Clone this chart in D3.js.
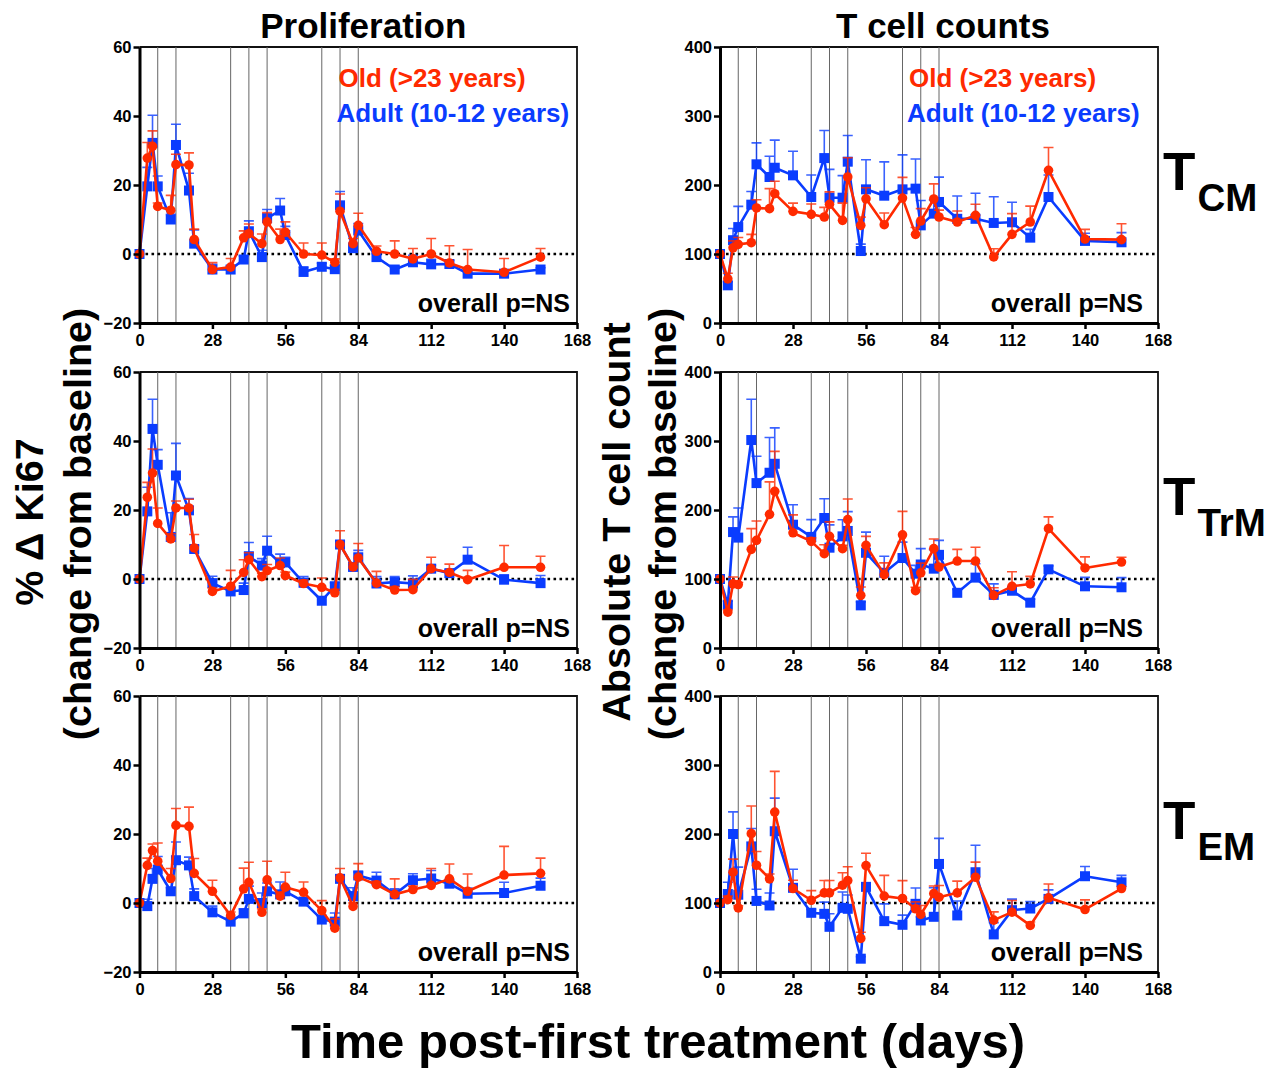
<!DOCTYPE html>
<html>
<head>
<meta charset="utf-8">
<script src="https://cdnjs.cloudflare.com/ajax/libs/d3/7.8.5/d3.min.js"></script>
<style>
  body { margin: 0; background: #fff; }
  svg text { font-family: "Liberation Sans", Arial, Helvetica, sans-serif; font-weight: bold; }
</style>
</head>
<body>
<div id="vis"></div>
<script>
// sampling days (same for every panel)
var days = [0, 3, 5, 7, 12, 14, 19, 21, 28, 35, 40, 42, 47, 49, 54, 56, 63, 70, 75, 77, 82, 84, 91, 98, 105, 112, 119, 126, 140, 154];
var treatDays = [7, 14, 35, 42, 49, 70, 77, 84];
var xTicks = [0, 28, 56, 84, 112, 140, 168];
var prolifTicks = [-20, 0, 20, 40, 60];
var countTicks = [0, 100, 200, 300, 400];

// Proliferation, TCM
var prolifCmAdult = [0, 19.6, 32.2, 19.6, 10, 31.6, 18.4, 3, -4.5, -4.5, -1.6, 6.6, -0.9, 10.4, 12.6, 5.5, -5.2, -3.7, -4.4, 14.1, 1.7, 6.8, -0.9, -4.5, -2.4, -3, -2.9, -5.7, -5.7, -4.5];
var prolifCmAdultErr = [0, 5.5, 8, 3, 1.5, 6, 5, 4, 1.5, 1, 1, 3, 2, 2.5, 3.5, 2.5, 1.5, 1, 1, 4, 1.5, 2, 1, 1, 2, 1.5, 1, 1, 1, 0.5];
var prolifCmOld = [0, 27.8, 31.2, 13.8, 12.7, 25.9, 25.8, 4.2, -4.5, -3.8, 4.7, 5.9, 3, 9.3, 4.2, 6.3, 0, -0.3, -2.4, 12.4, 3, 8.3, 0.8, 0, -1.4, 0, -2.6, -4.5, -5.3, -0.9];
var prolifCmOldErr = [0, 4.5, 4.5, 1, 4.3, 3, 3.5, 3, 2, 2.5, 2, 2.8, 2.8, 2.7, 3, 3, 3.2, 3.5, 1, 5, 1.5, 3.5, 1.5, 3.8, 3, 4.5, 5, 5.8, 4, 2.5];

// T cell counts, TCM
var countCmAdult = [100, 54.6, 120, 139, 171.5, 230, 211.6, 225, 214, 182.6, 239, 181.6, 181.6, 233.8, 104.3, 193.7, 184.5, 193.7, 194.7, 141.5, 158.5, 175.4, 151, 151, 145, 146, 123.7, 182.6, 119, 117];
var countCmAdultErr = [0, 5, 17, 30, 19, 31, 30, 40, 35, 32, 40, 41, 32, 38, 10, 43, 49, 50, 43, 36, 20, 36, 33, 37, 38, 29, 12, 32, 11, 14];
var countCmOld = [100, 64, 109, 114, 116.4, 166.7, 165.7, 187.4, 161.8, 157.5, 153.6, 172, 148.8, 211.6, 141.5, 180, 142.5, 181, 128.5, 147.8, 179.7, 153.6, 146.4, 156, 95.7, 128.5, 146.4, 221.3, 121.7, 120.8];
var countCmOldErr = [0, 8, 10, 10, 12, 12, 29, 18, 12, 15, 14, 18, 25, 28, 12, 16, 17, 30, 10, 18, 22, 10, 16, 16, 12, 30, 23, 33, 14, 23];

// Proliferation, TrM
var prolifTrmAdult = [0, 19.6, 43.5, 33.1, 12.2, 30, 19.9, 8.7, -1.2, -3.6, -3.2, 6.6, 3.9, 8.2, 4.6, 4.8, -1.1, -6.3, -2.1, 10, 3.5, 6.3, -1.3, -0.9, -1.3, 3, 1.7, 5.6, -0.2, -1.2];
var prolifTrmAdultErr = [0, 7, 8.6, 4.4, 7, 9.3, 3.4, 1, 2, 1, 2, 4, 2, 4.2, 2.6, 1.5, 1.8, 1, 1, 1, 1, 2, 2, 1.6, 2.2, 1, 1, 3.6, 1.4, 2.2];
var prolifTrmOld = [0, 23.7, 30.7, 16.1, 11.6, 20.6, 20.6, 9, -3.6, -2.1, 1.9, 5.6, 0.7, 2.4, 3.9, 1, -1.3, -2.4, -4, 10, 3.5, 6.1, -1.2, -3.2, -3.1, 3, 1.9, -0.2, 3.4, 3.4];
var prolifTrmOldErr = [0, 4.3, 7, 4.5, 1.5, 2, 2.5, 3.9, 1, 4.6, 3.7, 2, 1, 1.8, 2.2, 1, 1, 2.7, 1, 4, 1, 4.2, 3.4, 1, 3, 3.3, 2.4, 2.7, 6.3, 3.2];

// T cell counts, TrM
var countTrmAdult = [100, 62.8, 168, 160, 301.4, 239, 254, 267, 178.7, 161, 188.4, 145.4, 161.8, 169.6, 61.8, 138, 109, 130.4, 107.7, 121, 115, 135, 80, 102, 77, 83, 65.7, 114, 89.4, 88];
var countTrmAdultErr = [0, 5, 22, 43, 59, 39, 51, 52, 29, 25, 28, 33, 24, 28, 5, 30, 24, 23, 12, 23, 28, 21, 5, 20, 16, 5, 5, 5, 13, 14];
var countTrmOld = [100, 52, 93, 92, 143, 156, 193.7, 227, 167, 154.6, 136.7, 161.8, 144, 186, 76.3, 148.8, 106.3, 164, 83, 109, 144, 117.4, 126, 126, 76.3, 89.4, 92.8, 173, 116, 124.6];
var countTrmOldErr = [0, 3, 10, 3, 30, 28, 47, 58, 26, 5, 13, 21, 5, 30, 12, 13, 17, 34, 5, 14, 14, 4, 17, 20, 11, 21, 11, 17, 16, 7];

// Proliferation, TEM
var prolifEmAdult = [0, -0.9, 7, 9.7, 3.4, 12.4, 10.9, 2, -2.7, -5.4, -3, 1.2, 0, 3.4, 2.5, 3.4, 0.4, -4.8, -5.4, 7, 2, 8, 6.5, 2.5, 6.6, 7.1, 5.6, 2.7, 2.9, 5];
var prolifEmAdultErr = [0, 2, 3, 3.8, 1, 5.3, 2.4, 2.1, 1.8, 1, 1.3, 3.7, 2.9, 2.4, 3.6, 1, 1, 1, 2.5, 1, 2.4, 1, 2.4, 1.6, 1.9, 2.3, 0.4, 1.6, 3.1, 2.2];
var prolifEmOld = [0, 10.9, 15.2, 12.1, 7.1, 22.5, 22.2, 8.6, 3.4, -3.6, 4.1, 6, -2.7, 6.7, 2, 4.6, 3.1, -2.2, -7.3, 7.3, -1, 7.5, 5.3, 2.5, 3.9, 5.1, 7, 3.4, 8.1, 8.6];
var prolifEmOldErr = [0, 2.1, 1.9, 5.3, 2.9, 4.9, 5.6, 4.3, 3.2, 1, 6, 5.8, 1, 5.4, 1, 4.3, 3, 2.9, 2.7, 2.7, 1, 3.9, 1, 4.5, 1, 4.9, 4.3, 5, 8.3, 4.4];

// T cell counts, TEM
var countEmAdult = [100, 113, 200, 112, 182, 103, 96.4, 204, 122, 85.8, 84.3, 65.5, 93, 91.6, 19.3, 123.4, 73.7, 68.4, 98.8, 74.7, 80, 156.6, 82, 144.6, 54.5, 89.6, 92, 106, 138.8, 130];
var countEmAdultErr = [0, 17, 32, 40, 26, 17, 18, 48, 27, 5, 17, 19, 23, 20, 3, 5, 25, 14, 23, 5, 42, 37, 21, 39, 17, 16, 10, 13, 14, 10];
var countEmOld = [100, 105, 144.6, 93, 200.5, 154.7, 135, 231.8, 121, 104, 114.7, 114.7, 125.8, 132.5, 48.7, 154.2, 110, 106.5, 91.6, 83.4, 113.7, 108.4, 114.7, 137.3, 75.2, 86.7, 67.5, 107.5, 90.6, 121];
var countEmOldErr = [0, 5, 19, 3, 40, 20, 7, 59, 12, 14, 18, 18, 18, 20, 9, 18, 30, 26, 10, 13, 11, 17, 17, 22, 12, 17, 5, 20, 14, 3];

var RED = '#ff2a00';
var BLUE = '#0a3cff';

var width = 1276;
var height = 1068;

var svg = d3.select('#vis')
  .append('svg')
  .attr('width', width)
  .attr('height', height);

// panel placement
var cols = [{x0: 139.5, x1: 577}, {x0: 720, x1: 1158}];
var rows = [{y0: 47, y1: 323}, {y0: 372, y1: 648}, {y0: 696, y1: 972}];

var panels = [
  {col: 0, row: 0, kind: 'prolif', adult: prolifCmAdult, adultErr: prolifCmAdultErr, old: prolifCmOld, oldErr: prolifCmOldErr},
  {col: 1, row: 0, kind: 'count', adult: countCmAdult, adultErr: countCmAdultErr, old: countCmOld, oldErr: countCmOldErr},
  {col: 0, row: 1, kind: 'prolif', adult: prolifTrmAdult, adultErr: prolifTrmAdultErr, old: prolifTrmOld, oldErr: prolifTrmOldErr},
  {col: 1, row: 1, kind: 'count', adult: countTrmAdult, adultErr: countTrmAdultErr, old: countTrmOld, oldErr: countTrmOldErr},
  {col: 0, row: 2, kind: 'prolif', adult: prolifEmAdult, adultErr: prolifEmAdultErr, old: prolifEmOld, oldErr: prolifEmOldErr},
  {col: 1, row: 2, kind: 'count', adult: countEmAdult, adultErr: countEmAdultErr, old: countEmOld, oldErr: countEmOldErr}
];

function drawSeries(g, x, y, vals, errs, color, shape) {
  var pts = days.map(function(d, i) { return {day: d, v: vals[i], e: errs[i]}; });

  // error bars, upper half only
  var eb = g.append('g')
    .attr('stroke', color)
    .attr('stroke-width', 1.6)
    .attr('opacity', 0.8);
  eb.selectAll('.ebar')
    .data(pts.filter(function(p) { return p.e > 0; }))
    .enter()
    .append('path')
    .attr('fill', 'none')
    .attr('d', function(p) {
      var cx = x(p.day), yt = y(p.v + p.e);
      return 'M' + cx + ',' + y(p.v) + 'V' + yt + 'M' + (cx - 5) + ',' + yt + 'H' + (cx + 5);
    });

  var line = d3.line()
    .x(function(p) { return x(p.day); })
    .y(function(p) { return y(p.v); });

  g.append('path')
    .datum(pts)
    .attr('fill', 'none')
    .attr('stroke', color)
    .attr('stroke-width', 2.6)
    .attr('stroke-linejoin', 'round')
    .attr('d', line);

  if (shape === 'square') {
    g.selectAll('.sq')
      .data(pts)
      .enter()
      .append('rect')
      .attr('x', function(p) { return x(p.day) - 5; })
      .attr('y', function(p) { return y(p.v) - 5; })
      .attr('width', 10)
      .attr('height', 10)
      .attr('fill', color);
  } else {
    g.selectAll('.dot')
      .data(pts)
      .enter()
      .append('circle')
      .attr('cx', function(p) { return x(p.day); })
      .attr('cy', function(p) { return y(p.v); })
      .attr('r', 4.8)
      .attr('fill', color);
  }
}

panels.forEach(function(p) {
  var c = cols[p.col], r = rows[p.row];
  var prolif = p.kind === 'prolif';

  var x = d3.scaleLinear().domain([0, 168]).range([c.x0, c.x1]);
  var y = d3.scaleLinear()
    .domain(prolif ? [-20, 60] : [0, 400])
    .range([r.y1, r.y0]);

  var g = svg.append('g');

  // thin frame on top / right
  g.append('path')
    .attr('d', 'M' + c.x0 + ',' + r.y0 + 'H' + c.x1 + 'V' + r.y1)
    .attr('fill', 'none')
    .attr('stroke', '#111')
    .attr('stroke-width', 1.8);

  // treatment days
  g.selectAll('.treat')
    .data(treatDays)
    .enter()
    .append('line')
    .attr('x1', function(d) { return x(d); })
    .attr('x2', function(d) { return x(d); })
    .attr('y1', r.y0)
    .attr('y2', r.y1)
    .attr('stroke', '#666')
    .attr('stroke-width', 1);

  // baseline dotted
  var base = prolif ? 0 : 100;
  g.append('line')
    .attr('x1', c.x0)
    .attr('x2', c.x1)
    .attr('y1', y(base))
    .attr('y2', y(base))
    .attr('stroke', '#000')
    .attr('stroke-width', 2.6)
    .attr('stroke-dasharray', '2.6,3.4');

  drawSeries(g, x, y, p.adult, p.adultErr, BLUE, 'square');
  drawSeries(g, x, y, p.old, p.oldErr, RED, 'circle');

  // axes
  var xAxis = d3.axisBottom(x).tickValues(xTicks).tickSize(6).tickSizeOuter(0).tickPadding(5);
  var yAxis = d3.axisLeft(y).tickValues(prolif ? prolifTicks : countTicks).tickSize(6).tickSizeOuter(0).tickPadding(2);

  var gx = g.append('g')
    .attr('transform', 'translate(0,' + r.y1 + ')')
    .call(xAxis);
  var gy = g.append('g')
    .attr('transform', 'translate(' + c.x0 + ',0)')
    .call(yAxis);

  [gx, gy].forEach(function(a) {
    a.select('.domain').attr('stroke', '#000').attr('stroke-width', 3);
    a.selectAll('.tick line').attr('stroke', '#000').attr('stroke-width', 2.5);
    a.selectAll('.tick text')
      .attr('fill', '#000')
      .style('font-size', '16.5px')
      .style('font-family', '"Liberation Sans", Arial, sans-serif')
      .style('font-weight', 'bold');
  });

  // overall p value
  g.append('text')
    .attr('x', c.x1 - (p.col === 0 ? 7 : 15))
    .attr('y', r.y1 - 11)
    .attr('text-anchor', 'end')
    .style('font-size', '25px')
    .text('overall p=NS');

  // legend on the top row
  if (p.row === 0) {
    var lx = c.x0 + (p.col === 0 ? 197 : 187);
    g.append('text')
      .attr('x', lx + 2)
      .attr('y', r.y0 + 40)
      .attr('fill', RED)
      .style('font-size', '26px')
      .text('Old (>23 years)');
    g.append('text')
      .attr('x', lx)
      .attr('y', r.y0 + 75)
      .attr('fill', BLUE)
      .style('font-size', '26px')
      .text('Adult (10-12 years)');
  }
});

// column titles
svg.append('text')
  .attr('x', (cols[0].x0 + cols[0].x1) / 2 + 5)
  .attr('y', 38)
  .attr('text-anchor', 'middle')
  .style('font-size', '35px')
  .text('Proliferation');

svg.append('text')
  .attr('x', (cols[1].x0 + cols[1].x1) / 2 + 4)
  .attr('y', 38)
  .attr('text-anchor', 'middle')
  .style('font-size', '35px')
  .text('T cell counts');

// y labels
function vLabel(cx, cy, txt, size) {
  svg.append('text')
    .attr('transform', 'translate(' + cx + ',' + cy + ') rotate(-90)')
    .attr('text-anchor', 'middle')
    .style('font-size', size + 'px')
    .text(txt);
}
vLabel(43, 522, '% \u0394 Ki67', 39.5);
vLabel(91, 524, '(change from baseline)', 39.5);
vLabel(630, 522, 'Absolute T cell count', 39.5);
vLabel(676, 524, '(change from baseline)', 39.5);

// subset labels on the right
var subsets = [['CM', 0], ['TrM', 1], ['EM', 2]];
subsets.forEach(function(s) {
  var r = rows[s[1]];
  var yc = (r.y0 + r.y1) / 2;
  var t = svg.append('text')
    .attr('x', 1163)
    .attr('y', yc + 5)
    .style('font-size', '53px')
    .text('T');
  t.append('tspan')
    .attr('dy', 21)
    .attr('dx', 2)
    .style('font-size', '38.5px')
    .text(s[0]);
});

// x label
svg.append('text')
  .attr('x', 658)
  .attr('y', 1058)
  .attr('text-anchor', 'middle')
  .style('font-size', '49px')
  .text('Time post-first treatment (days)');
</script>
</body>
</html>
